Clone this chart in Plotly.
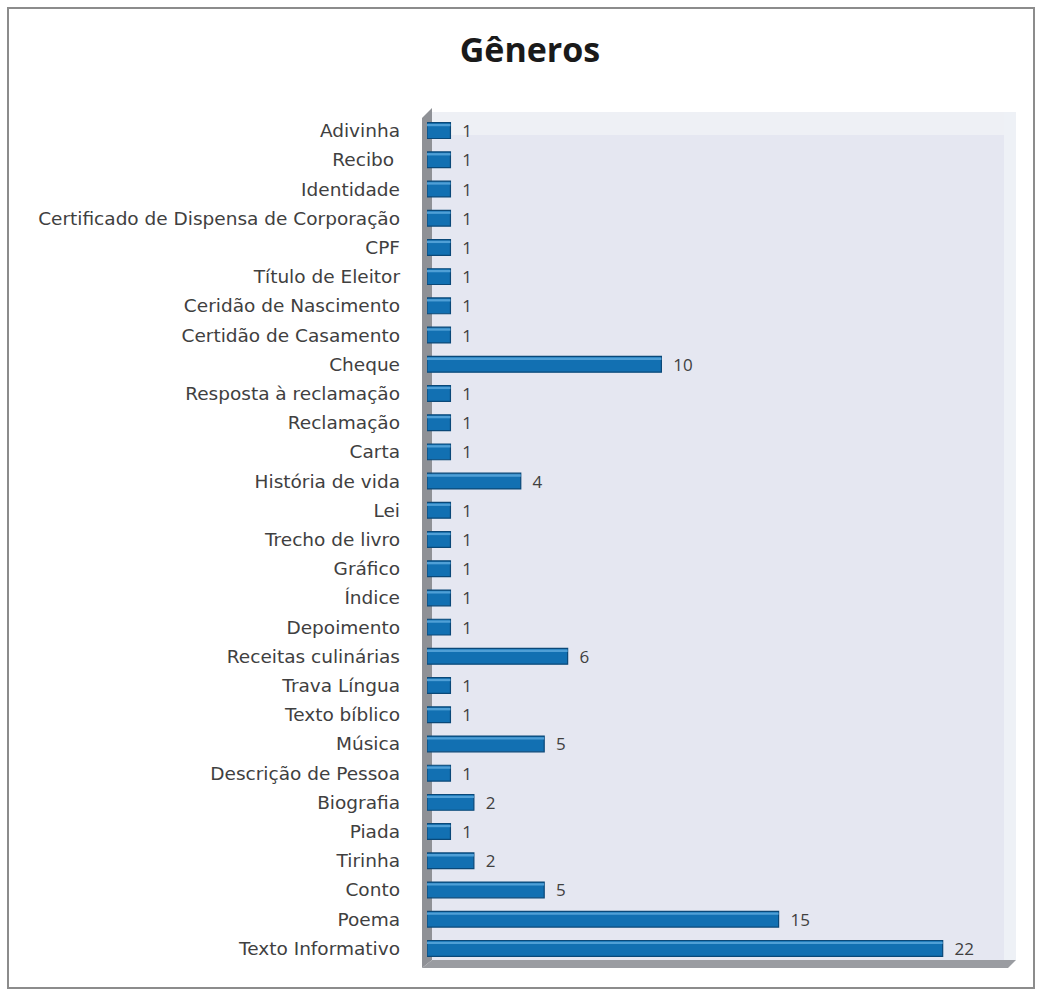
import plotly.graph_objects as go

# Gêneros textuais e quantidade de ocorrências (de cima para baixo)
generos = [
    "Adivinha", "Recibo ", "Identidade", "Certificado de Dispensa de Corporação",
    "CPF", "Título de Eleitor", "Ceridão de Nascimento", "Certidão de Casamento",
    "Cheque", "Resposta à reclamação", "Reclamação", "Carta", "História de vida",
    "Lei", "Trecho de livro", "Gráfico", "Índice", "Depoimento",
    "Receitas culinárias", "Trava Língua", "Texto bíblico", "Música",
    "Descrição de Pessoa", "Biografia", "Piada", "Tirinha", "Conto", "Poema",
    "Texto Informativo",
]
quantidades = [1, 1, 1, 1, 1, 1, 1, 1, 10, 1, 1, 1, 4, 1, 1, 1, 1, 1,
               6, 1, 1, 5, 1, 2, 1, 2, 5, 15, 22]

W, H = 1039, 993
L, R, T, B = 427, 26, 116, 30
pw, ph = W - L - R, H - T - B
FONT = "Open Sans"
LABEL_FONT = "DejaVu Sans"


def px(x):
    return (x - L) / pw


def py(y):
    return (H - B - y) / ph


fig = go.Figure()

fig.add_trace(go.Bar(
    x=quantidades, y=generos, orientation="h", width=0.54,
    marker=dict(color="#1270b2", line=dict(color="#0a4878", width=1.2)),
    text=quantidades, texttemplate="  %{x}", textposition="outside",
    cliponaxis=False, constraintext="none",
    textfont=dict(family=FONT, size=17, color="#404040"),
    hoverinfo="x+y",
))
# faixa clara superior das barras (efeito de relevo)
fig.add_trace(go.Bar(
    x=quantidades, y=generos, orientation="h", width=0.08, offset=-0.23,
    marker=dict(color="#4f9fd6", line=dict(width=0)),
    hoverinfo="skip",
))

shapes = [
    # moldura externa
    dict(type="rect", xref="paper", yref="paper",
         x0=px(8), x1=px(1034), y0=py(988), y1=py(8),
         line=dict(color="#8c8c8c", width=2), fillcolor="rgba(0,0,0,0)", layer="below"),
    # faixa clara no topo do painel
    dict(type="rect", xref="paper", yref="paper",
         x0=px(432), x1=px(1004), y0=py(135), y1=py(112),
         line=dict(width=0), fillcolor="#eef0f5", layer="below"),
    # painel do fundo
    dict(type="rect", xref="paper", yref="paper",
         x0=px(432), x1=px(1004), y0=py(960), y1=py(135),
         line=dict(width=0), fillcolor="#e5e7f1", layer="below"),
    dict(type="rect", xref="paper", yref="paper",
         x0=px(1004), x1=px(1016), y0=py(960), y1=py(112),
         line=dict(width=0), fillcolor="#eef1f6", layer="below"),
    # parede lateral
    dict(type="path", xref="paper", yref="paper",
         path=f"M {px(422)},{py(968)} L {px(422)},{py(118)} L {px(432)},{py(108)} "
              f"L {px(432)},{py(960)} Z",
         line=dict(width=0), fillcolor="#8f9196", layer="below"),
    # piso
    dict(type="path", xref="paper", yref="paper",
         path=f"M {px(422)},{py(968)} L {px(1008)},{py(968)} L {px(1016)},{py(960)} "
              f"L {px(432)},{py(960)} Z",
         line=dict(width=0), fillcolor="#9a9ca1", layer="below"),
]

fig.update_layout(
    width=W, height=H,
    margin=dict(l=L, r=R, t=T, b=B),
    paper_bgcolor="white", plot_bgcolor="rgba(0,0,0,0)",
    barmode="overlay", showlegend=False,
    title=dict(text="<b>Gêneros</b>", x=530 / W, xanchor="center",
               xref="container", y=1 - 50 / H, yanchor="middle", yref="container",
               font=dict(family=FONT, size=34, color="#1a1a1a")),
    shapes=shapes,
    xaxis=dict(range=[0, 25], visible=False, fixedrange=True),
    yaxis=dict(categoryorder="array", categoryarray=generos, autorange="reversed",
               showgrid=False, zeroline=False, showline=False, ticks="",
               ticklabelstandoff=26,
               tickfont=dict(family=LABEL_FONT, size=18.5, color="#404040")),
)

fig.write_html("out.html")
